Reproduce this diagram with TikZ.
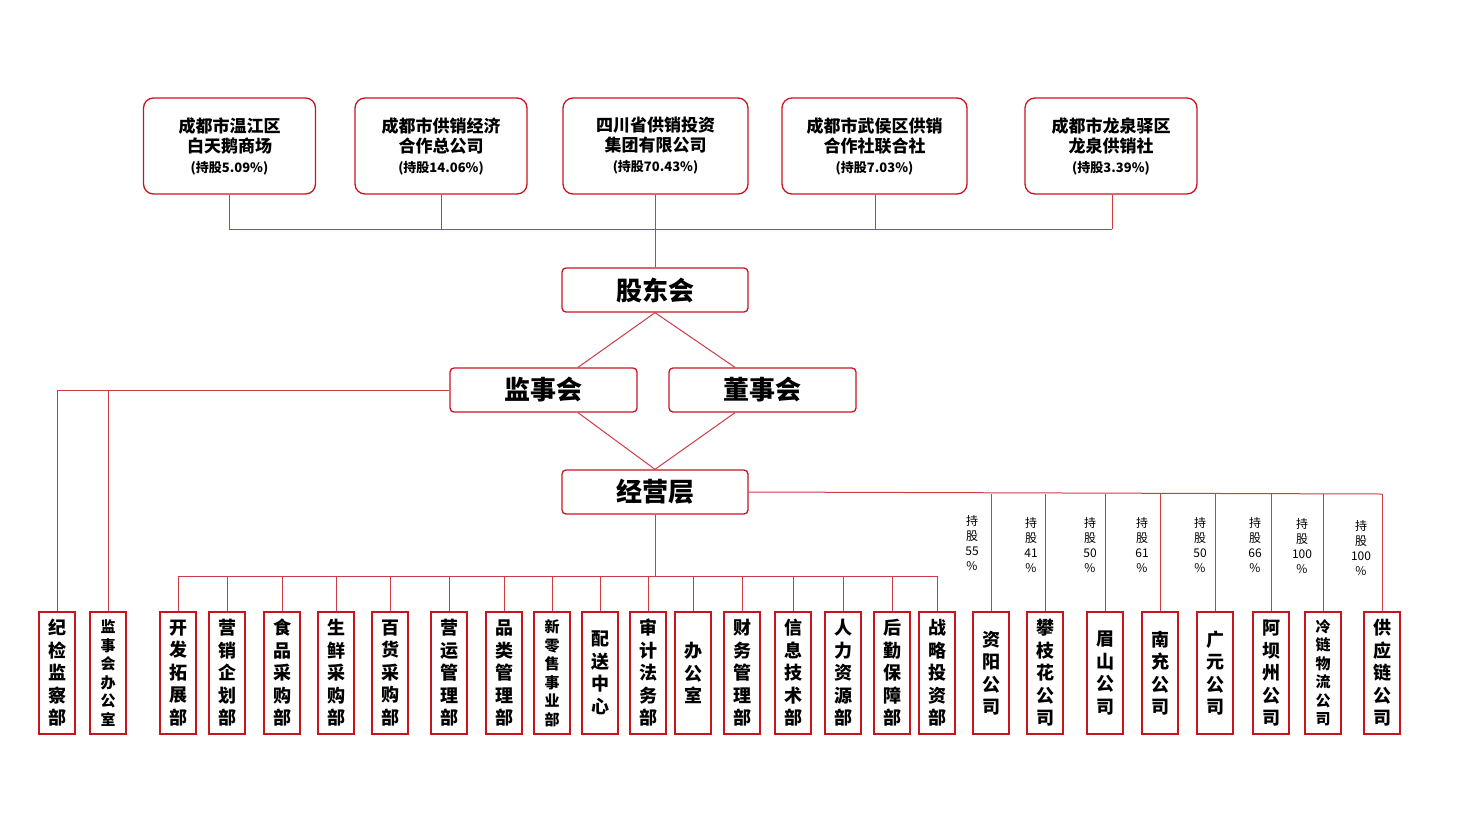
\documentclass[tikz,border=0pt]{standalone}
\usepackage{fontspec}
\setmainfont{Noto Sans CJK SC}
\definecolor{bred}{RGB}{200,20,30}
\definecolor{lred}{RGB}{205,60,70}
\begin{document}
\begin{tikzpicture}[x=1pt,y=-1pt,
 top/.style={draw=bred,line width=1.3pt,rounded corners=10pt,minimum width=172pt,minimum height=96pt,align=center,font=\bfseries\fontsize{17}{20}\selectfont,inner sep=0pt},
 mid/.style={draw=bred,line width=1.3pt,rounded corners=4pt,minimum width=186pt,minimum height=44pt,font=\bfseries\fontsize{26}{28}\selectfont,inner sep=0pt},
 dep/.style={draw=bred,line width=1.3pt,minimum width=36pt,minimum height=122pt,align=center,font=\bfseries\fontsize{18}{22.5}\selectfont,inner sep=0pt},
 sdep/.style={dep,font=\bfseries\fontsize{15}{18.5}\selectfont},
 ln/.style={draw=lred,line width=1pt},
 pct/.style={font=\fontsize{12}{15}\selectfont,align=center,inner sep=0pt,anchor=north}]
\useasboundingbox (0,0) rectangle (1457,820);
\newcommand{\pc}[1]{{\fontsize{13}{16}\selectfont #1}}
\node[top] (t1) at (229.5,146) {成都市温江区\\白天鹅商场\\\pc{(持股5.09\%)}};
\node[top] (t2) at (441,146) {成都市供销经济\\合作总公司\\\pc{(持股14.06\%)}};
\node[top,minimum width=185pt] (t3) at (655.5,146) {四川省供销投资\\集团有限公司\\\pc{(持股70.43\%)}};
\node[top,minimum width=185pt] (t4) at (874.5,146) {成都市武侯区供销\\合作社联合社\\\pc{(持股7.03\%)}};
\node[top] (t5) at (1111,146) {成都市龙泉驿区\\龙泉供销社\\\pc{(持股3.39\%)}};
\node[mid] (gd) at (655,290) {股东会};
\node[mid,minimum width=187pt] (js) at (543.5,390) {监事会};
\node[mid,minimum width=187pt] (ds) at (762.5,390) {董事会};
\node[mid] (jy) at (655,492) {经营层};
\coordinate (bus1) at (229,229);
\coordinate (bus5) at (1112,229);
\draw[ln] (bus1) -- (bus5);
\foreach \n/\x in {t1/229,t2/441,t3/655,t4/875,t5/1112} \draw[ln] (\n.south -| \x,0) -- (\x,229);
\draw[ln] (655,229) -- (gd.north);
\draw[ln] (gd.south) -- (js.north -| 578,0) (gd.south) -- (ds.north -| 735,0);
\draw[ln] (js.south -| 578,0) -- (jy.north) (ds.south -| 735,0) -- (jy.north);
% bottom nodes
\foreach \nm/\x/\t/\s in {
 a/57/{纪\\检\\监\\察\\部}/dep,
 b/108/{监\\事\\会\\办\\公\\室}/sdep,
 c/178/{开\\发\\拓\\展\\部}/dep,
 d/227/{营\\销\\企\\划\\部}/dep,
 e/282/{食\\品\\采\\购\\部}/dep,
 f/336/{生\\鲜\\采\\购\\部}/dep,
 g/390/{百\\货\\采\\购\\部}/dep,
 h/449/{营\\运\\管\\理\\部}/dep,
 i/504/{品\\类\\管\\理\\部}/dep,
 j/552/{新\\零\\售\\事\\业\\部}/sdep,
 k/600/{配\\送\\中\\心}/dep,
 l/648/{审\\计\\法\\务\\部}/dep,
 m/693/{办\\公\\室}/dep,
 n/742/{财\\务\\管\\理\\部}/dep,
 o/793/{信\\息\\技\\术\\部}/dep,
 p/843/{人\\力\\资\\源\\部}/dep,
 q/892/{后\\勤\\保\\障\\部}/dep,
 r/937/{战\\略\\投\\资\\部}/dep,
 s/991/{资\\阳\\公\\司}/dep,
 u/1045/{攀\\枝\\花\\公\\司}/dep,
 v/1105/{眉\\山\\公\\司}/dep,
 w/1160/{南\\充\\公\\司}/dep,
 x/1215/{广\\元\\公\\司}/dep,
 y/1271/{阿\\坝\\州\\公\\司}/dep,
 z/1323/{冷\\链\\物\\流\\公\\司}/sdep,
 zz/1382/{供\\应\\链\\公\\司}/dep}
 \node[\s] (\nm) at (\x,673) {\t};
% supervisory branch
\coordinate (jl) at (57,390);
\draw[ln] (js.west) -- (jl) -- (a.north);
\draw[ln] (108,390) -- (b.north);
% departments bus
\coordinate (db1) at (178,576);
\coordinate (db2) at (937,576);
\draw[ln] (jy.south) -- (655,576);
\draw[ln] (db1) -- (db2);
\foreach \nm in {c,d,e,f,g,h,i,j,k,l,m,n,o,p,q,r} \draw[ln] (\nm.north |- db1) -- (\nm.north);
% subsidiaries bus
\coordinate (sb) at (1382,494);
\draw[ln] (jy.east) -- (sb);
\foreach \nm in {s,u,v,w,x,y,z,zz} \draw[ln] (\nm.north |- sb) -- (\nm.north);
\foreach \x/\p/\yy in {972/55/515,1031/41/517,1090/50/517,1142/61/517,1200/50/517,1255/66/517,1302/100/518,1361/100/520}
 \node[pct] at (\x,\yy) {持\\股\\\p\\\%};
\end{tikzpicture}
\end{document}
